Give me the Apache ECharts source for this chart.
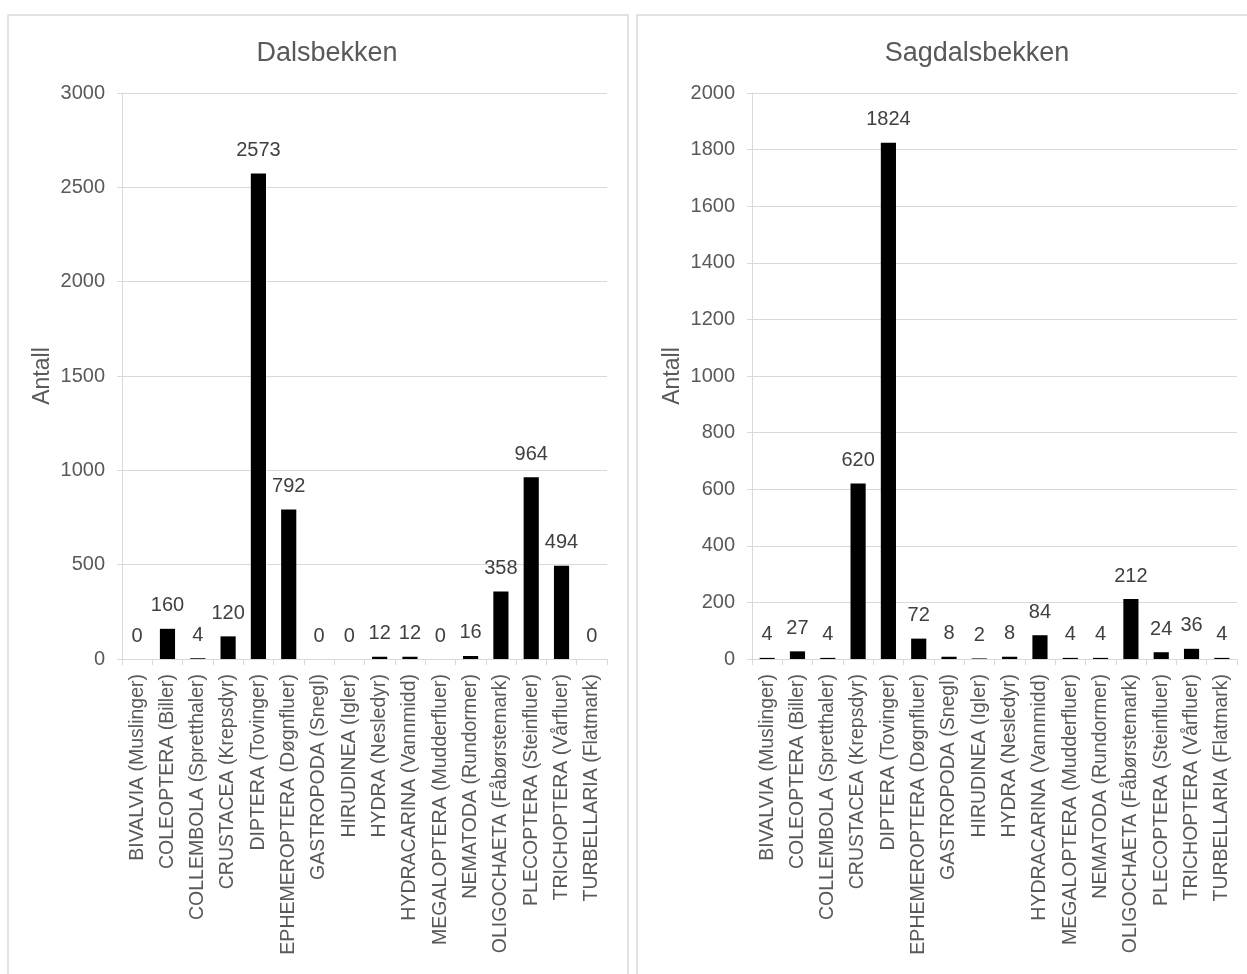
<!DOCTYPE html>
<html><head><meta charset="utf-8">
<script src="https://cdn.jsdelivr.net/npm/echarts@6/dist/echarts.min.js"></script>
<style>html,body{margin:0;padding:0;background:#fff}#c{width:1247px;height:974px}</style>
</head><body><div id="c"></div>
<script>
const categories = ["BIVALVIA (Muslinger)","COLEOPTERA (Biller)","COLLEMBOLA (Spretthaler)","CRUSTACEA (Krepsdyr)","DIPTERA (Tovinger)","EPHEMEROPTERA (Døgnfluer)","GASTROPODA (Snegl)","HIRUDINEA (Igler)","HYDRA (Nesledyr)","HYDRACARINA (Vannmidd)","MEGALOPTERA (Mudderfluer)","NEMATODA (Rundormer)","OLIGOCHAETA (Fåbørstemark)","PLECOPTERA (Steinfluer)","TRICHOPTERA (Vårfluer)","TURBELLARIA (Flatmark)"];
const dalsbekken = [0,160,4,120,2573,792,0,0,12,12,0,16,358,964,494,0];
const sagdalsbekken = [4,27,4,620,1824,72,8,2,8,84,4,4,212,24,36,4];
const titles = ["Dalsbekken","Sagdalsbekken"];
const yAxisName = "Antall";

const FONT = "'Liberation Sans', 'DejaVu Sans', sans-serif";
const grey = '#595959';
const lineC = '#d9d9d9';
function xAx(i){return {type:'category',gridIndex:i,data:categories,
  axisLine:{lineStyle:{color:lineC,width:1}},
  axisTick:{show:true,alignWithLabel:false,length:6,lineStyle:{color:lineC}},
  axisLabel:{rotate:90,interval:0,fontFamily:FONT,fontSize:19.5,color:grey,margin:15}};}
function yAx(i,max,interval){return {type:'value',gridIndex:i,min:0,max:max,interval:interval,
  name:yAxisName,nameLocation:'middle',nameGap:68,nameTextStyle:{fontFamily:FONT,fontSize:23,color:grey},
  axisLine:{show:true,lineStyle:{color:lineC}},
  axisTick:{show:true,length:5,lineStyle:{color:lineC}},
  splitLine:{lineStyle:{color:lineC,width:1}},
  axisLabel:{fontFamily:FONT,fontSize:20,color:grey,margin:17,formatter:v=>String(v)}};}
function ser(i,data){return {type:'bar',xAxisIndex:i,yAxisIndex:i,data:data,barWidth:'50%',
  itemStyle:{color:'#000'},
  label:{show:true,position:'top',distance:13,fontFamily:FONT,fontSize:20,color:'#404040'}};}
const chart = echarts.init(document.getElementById('c'));
chart.setOption({
  animation:false,
  title:[
    {text:titles[0],left:322,top:35,textAlign:'center',textStyle:{fontFamily:FONT,fontSize:27,fontWeight:'normal',color:grey}},
    {text:titles[1],left:972,top:35,textAlign:'center',textStyle:{fontFamily:FONT,fontSize:27,fontWeight:'normal',color:grey}}
  ],
  graphic:[
    {type:'rect',shape:{x:8,y:15,width:620,height:975},style:{fill:null,stroke:lineC,lineWidth:1.5}},
    {type:'rect',shape:{x:637,y:15,width:620,height:975},style:{fill:null,stroke:lineC,lineWidth:1.5}}
  ],
  grid:[
    {left:122,top:93,width:485,height:566},
    {left:752,top:93,width:485,height:566}
  ],
  xAxis:[xAx(0),xAx(1)],
  yAxis:[yAx(0,3000,500),yAx(1,2000,200)],
  series:[ser(0,dalsbekken),ser(1,sagdalsbekken)]
});
</script></body></html>
